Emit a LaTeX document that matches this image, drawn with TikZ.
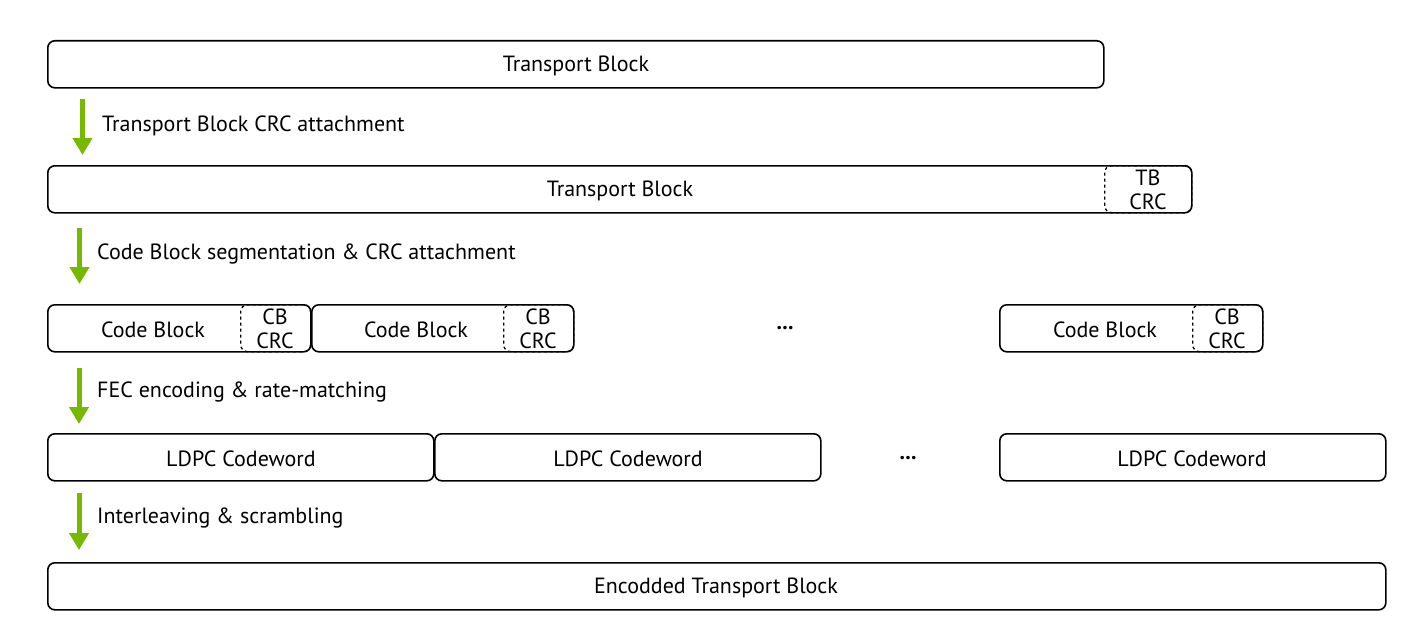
\documentclass[tikz,border=0pt]{standalone}
\usepackage{fontspec}
\setmainfont{PT Sans}
\usetikzlibrary{arrows.meta}
\definecolor{nvgreen}{RGB}{118,185,0}
\begin{document}
\begin{tikzpicture}[x=1pt,y=-1pt,
  txt/.style={font=\fontsize{22}{24}\selectfont, inner sep=0pt, text=black},
  blk/.style={draw, line width=1.6pt, rounded corners=7pt, minimum height=47pt, inner sep=0pt, anchor=north west},
  crc/.style={draw, dashed, line width=1.3pt, rounded corners=7pt, minimum height=47pt, inner sep=0pt, anchor=north west},
  crctxt/.style={txt, align=center},
  flow/.style={draw=nvgreen, line width=5pt, -{Triangle[length=17pt,width=19pt]}},
  lbl/.style={txt, anchor=west},
  dots/.style={txt, font=\fontsize{22}{24}\selectfont\bfseries}
]
\useasboundingbox (0,0) rectangle (1412,642);

% Row 1
\node[blk, minimum width=1056pt] (tb1) at (47,40) {};
\node[txt] (tb1t) at (576,66) {Transport Block};

% Row 2
\node[crc, minimum width=87pt] (tbcrc) at (1104,165) {};
\node[crctxt] (tbcrct) at (1148,190) {TB\\CRC};
\node[blk, minimum width=1144pt] (tb2) at (47,165) {};
\node[txt] (tb2t) at (620,191) {Transport Block};

% Row 3
\node[crc, minimum width=70pt] (cbcrc1) at (240,304) {};
\node[crctxt] (cbcrc1t) at (275,329) {CB\\CRC};
\node[blk, minimum width=263pt] (cb1) at (47,304) {};
\node[txt] (cb1t) at (153,330) {Code Block};
\node[crc, minimum width=70pt] (cbcrc2) at (503,304) {};
\node[crctxt] (cbcrc2t) at (538,329) {CB\\CRC};
\node[blk, minimum width=262pt] (cb2) at (311,304) {};
\node[txt] (cb2t) at (416,330) {Code Block};
\node[dots] (dots1) at (785,328) {...};
\node[crc, minimum width=70pt] (cbcrc3) at (1192,304) {};
\node[crctxt] (cbcrc3t) at (1227,329) {CB\\CRC};
\node[blk, minimum width=263pt] (cb3) at (999,304) {};
\node[txt] (cb3t) at (1105,330) {Code Block};

% Row 4
\node[blk, minimum width=386pt] (cw1) at (47,433) {};
\node[txt] (cw1t) at (241,459) {LDPC Codeword};
\node[blk, minimum width=386pt] (cw2) at (434,433) {};
\node[txt] (cw2t) at (628,459) {LDPC Codeword};
\node[dots] (dots2) at (908,458) {...};
\node[blk, minimum width=386pt] (cw3) at (999,433) {};
\node[txt] (cw3t) at (1192,459) {LDPC Codeword};

% Row 5
\node[blk, minimum width=1338pt] (etb) at (47,562) {};
\node[txt] (etbt) at (716,588) {Encodded Transport Block};

% Arrows
\coordinate (a1s) at (82.5,99);  \coordinate (a1e) at (82.5,155);
\coordinate (a2s) at (79.5,228); \coordinate (a2e) at (79.5,284);
\coordinate (a3s) at (79,368);   \coordinate (a3e) at (79,424);
\coordinate (a4s) at (79,493);   \coordinate (a4e) at (79,550);
\draw[flow] (a1s) -- (a1e);
\draw[flow] (a2s) -- (a2e);
\draw[flow] (a3s) -- (a3e);
\draw[flow] (a4s) -- (a4e);

\node[lbl] (l1) at (102,126) {Transport Block CRC attachment};
\node[lbl] (l2) at (97,254) {Code Block segmentation \& CRC attachment};
\node[lbl] (l3) at (97,392) {FEC encoding \& rate-matching};
\node[lbl] (l4) at (97,518) {Interleaving \& scrambling};
\end{tikzpicture}
\end{document}
